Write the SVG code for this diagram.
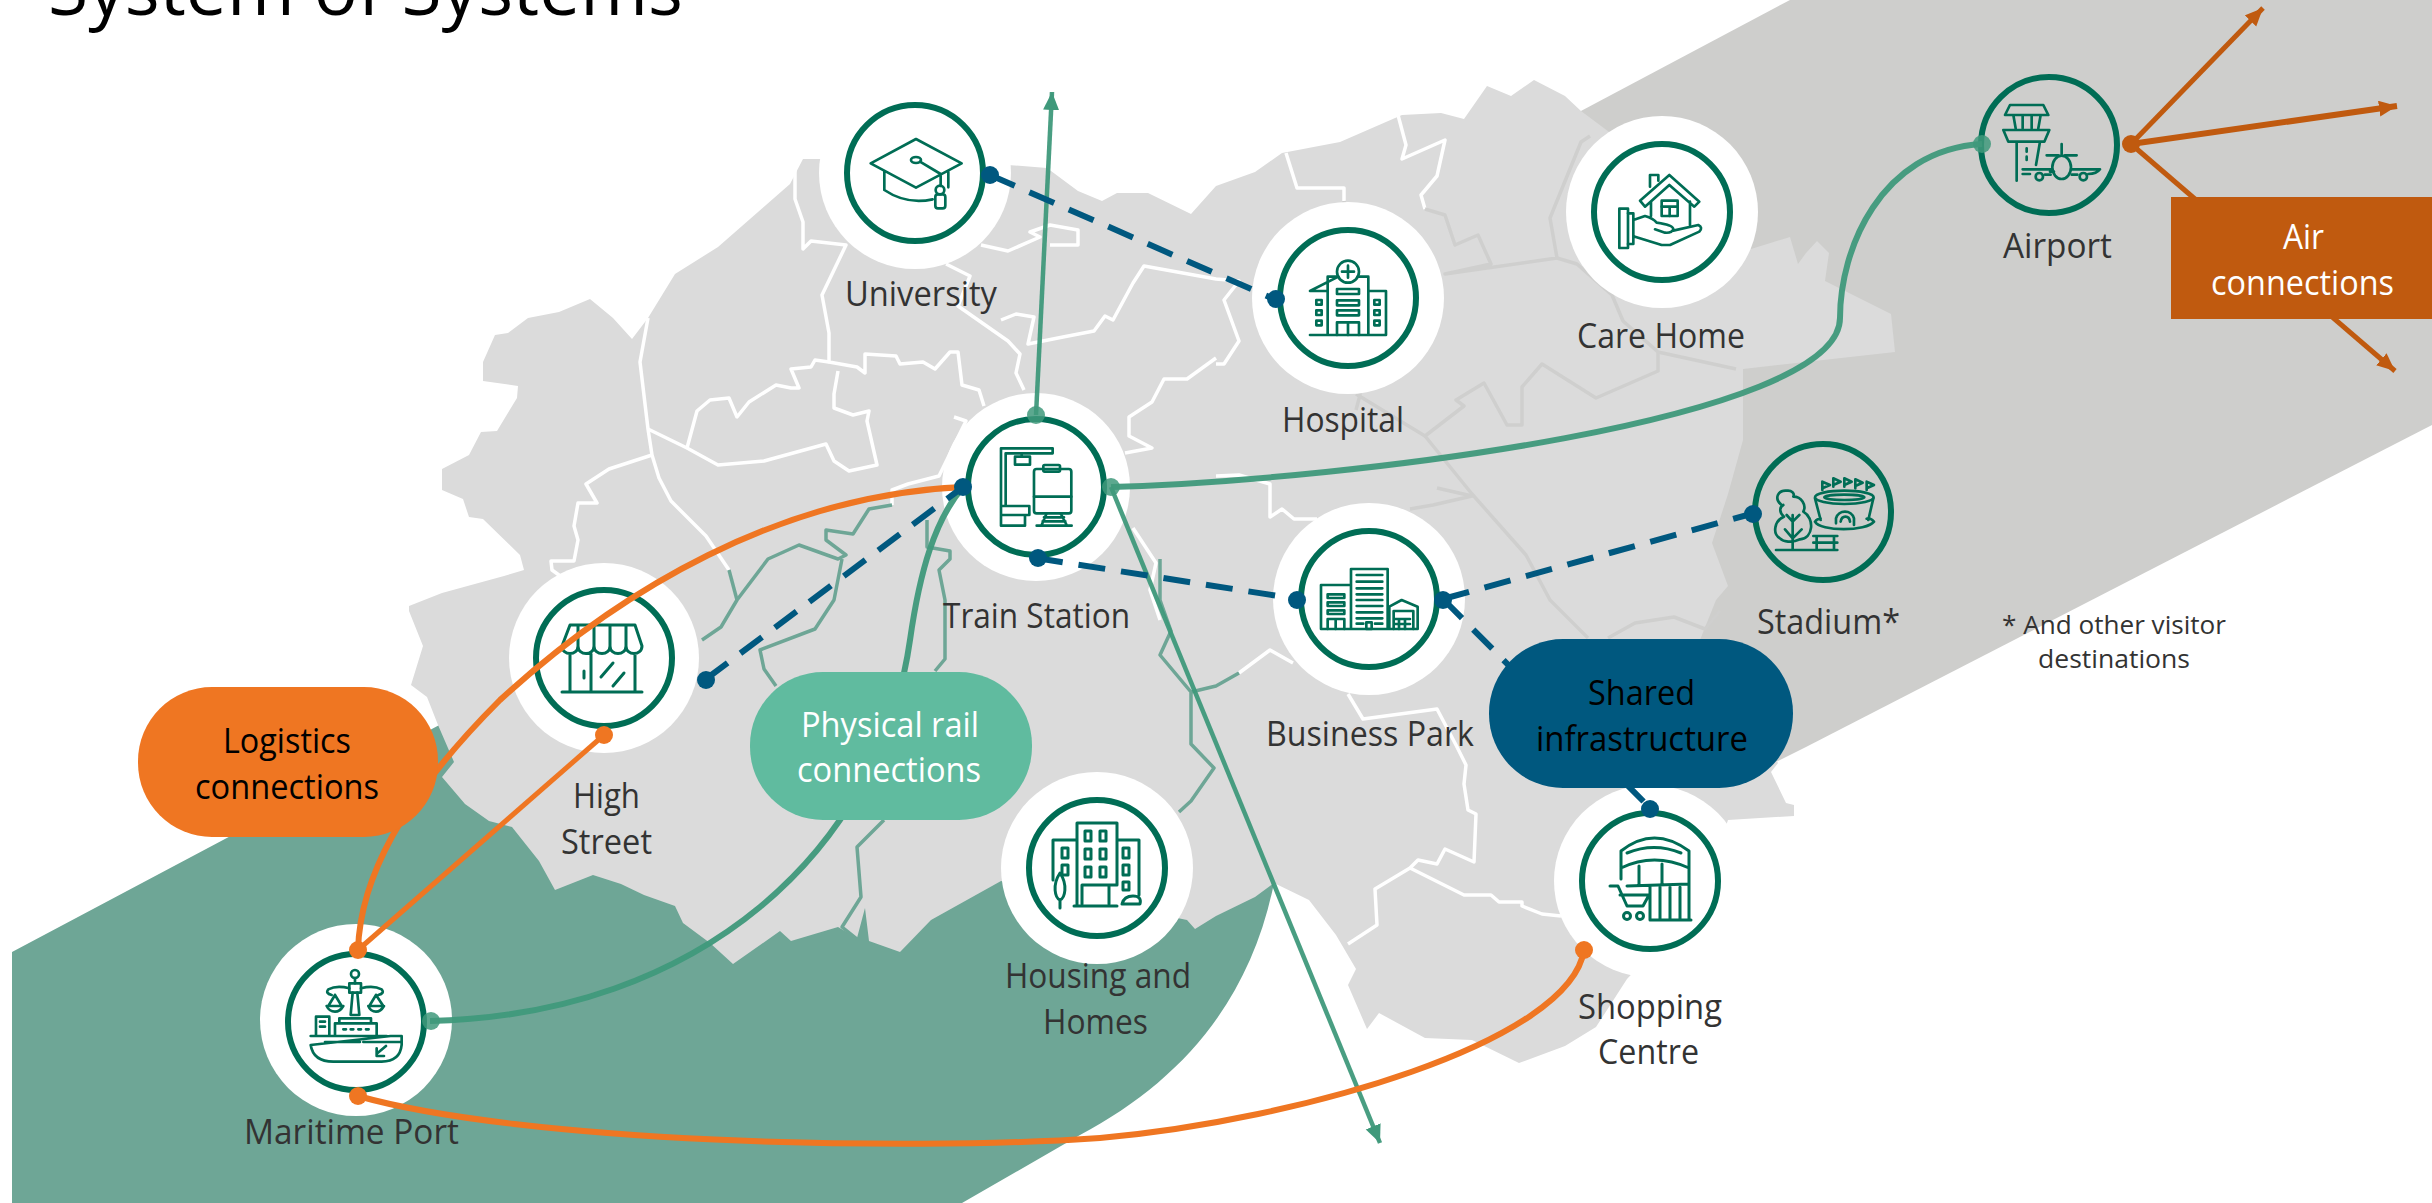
<svg xmlns="http://www.w3.org/2000/svg" width="2432" height="1203" viewBox="0 0 2432 1203">
<style>
text{font-family:"Open Sans","Liberation Sans",sans-serif;font-size:34px;fill:#333;text-anchor:start}
.title{font-size:74px;fill:#000}
.foot{font-size:26px}
.w{fill:#fff}.k{fill:#000}
.bw{fill:none;stroke:#fff;stroke-width:3.5;stroke-linejoin:round}
.bg{fill:none;stroke:#cfcfce;stroke-width:3.5;stroke-linejoin:round}
.br{fill:none;stroke:#6ea696;stroke-width:3.5;stroke-linejoin:round}
.halo{fill:#fff}
.ring{fill:#fff;stroke:#006d55;stroke-width:6}
.ringn{fill:none;stroke:#006d55;stroke-width:6}
.ic{fill:none;stroke:#006d55;stroke-width:3;stroke-linejoin:round;stroke-linecap:round}
.i3{fill:none;stroke:#006d55;stroke-width:8;stroke-linejoin:round;stroke-linecap:round}
.teal{fill:none;stroke:#3f997b;stroke-opacity:.95;stroke-width:6}
.org{fill:none;stroke:#ef7622;stroke-width:6}
.blue{fill:none;stroke:#00587f;stroke-width:6;stroke-dasharray:27 16}
.air{fill:none;stroke:#c05a0f;stroke-width:5}
.dt{fill:#3f997b;fill-opacity:.85}.do{fill:#ef7622}.db{fill:#00587f}.da{fill:#c05a0f}
</style>
<defs>
<marker id="at" markerUnits="userSpaceOnUse" markerWidth="20" markerHeight="18" refX="18" refY="8" orient="auto"><path d="M0,0L18,8L0,16Z" fill="#3f997b"/></marker>
<marker id="aa" markerUnits="userSpaceOnUse" markerWidth="20" markerHeight="18" refX="18" refY="8" orient="auto"><path d="M0,0L18,8L0,16Z" fill="#c05a0f"/></marker>
</defs>

<g id="background">
<path id="band-grey" fill="#cececc" d="M1790,0H2432V425L1806,747L1700,800L1500,500V154Z"/>
<path id="band-green" fill="#6ea696" d="M12,952L445,722L700,700L1274,883C1250,1002 1180,1082 1080,1135L962,1203H12Z"/>
<path id="map" fill="#dbdbdb" d="M818,159L803,159L790,184L718,247L675,274L648,318L632,339L613,318L590,299L559,312L528,318L508,333L495,335L483,362L483,381L518,386L517,398L497,431L481,432L469,455L442,469L442,490L463,499L469,517L483,519L520,555L524,570L504,576L442,593L409,606L409,611L423,646L411,685L427,697L438,725L454,762L442,777L465,804L489,821L512,827L539,861L555,890L593,875L621,884L644,895L675,906L683,923L710,943L733,964L780,931L791,941L838,927L857,938L865,908L869,941L900,952L931,920L1001,881L1100,902L1187,920L1195,929L1216,916L1255,897L1274,883L1309,900L1336,935L1356,969L1348,985L1367,1029L1379,1013L1425,1038L1472,1040L1519,1063L1565,1046L1596,1027L1627,979L1700,902L1728,820L1794,816L1794,805L1786,803L1771,772L1778,763L1700,640L1716,600L1728,586L1712,543L1728,494L1743,440L1743,369L1895,352L1891,314L1825,281L1829,253L1817,241L1806,253L1798,264L1790,237L1751,249L1700,200L1581,111L1565,96L1534,80L1511,96L1487,86L1464,119L1441,113L1402,115L1340,142L1282,153L1255,172L1216,186L1191,214L1148,193L1117,193L1102,201L1078,191L1047,168L1008,165Z"/>
<g id="borders-white">
<polyline class="bw" points="795,170 795,199 803,222 803,249 811,241 846,245 822,295 829,333 829,362 857,367 865,373 865,354 896,356 900,364 923,362 935,369 950,352 958,352 962,385 979,390 984,406"/>
<polyline class="bw" points="829,362 815,360 811,367 791,369 799,388 791,388 776,385 749,402 737,417 729,398 710,400 697,411 687,448"/>
<polyline class="bw" points="648,318 640,362 648,429 652,455 659,478 671,501 706,536 729,570"/>
<polyline class="bw" points="648,429 687,448 718,465 764,461 826,444 834,461 849,471 877,465 867,421 869,411 853,415 834,408 834,394 838,371"/>
<polyline class="bw" points="652,455 609,469 586,484 597,503 578,503 574,526 578,540 574,561 551,561 552,570 574,586"/>
<polyline class="bw" points="946,264 970,276 958,306 1008,341 1020,354 1016,373 1024,390"/>
<polyline class="bw" points="981,245 1008,251 1040,237 1030,232 1050,225 1078,230 1078,245 1050,245"/>
<polyline class="bw" points="1001,320 1016,314 1034,317 1028,344 1063,337 1094,331 1105,316 1113,320 1133,283 1144,266 1216,279 1239,281 1224,300 1239,341 1224,364 1216,364"/>
<polyline class="bw" points="1216,358 1187,379 1164,379 1152,402 1129,417 1129,436 1152,448 1125,453"/>
<polyline class="bw" points="954,417 966,421 939,476 908,484 892,490 892,505"/>
<polyline class="bw" points="1286,153 1297,188 1344,188 1344,201"/>
<polyline class="bw" points="1398,115 1406,145 1402,159 1445,140 1437,176 1421,195 1425,209"/>
<polyline class="bw" points="1216,476 1239,475 1270,484 1270,517 1282,509 1294,519 1317,519"/>
<polyline class="bw" points="1133,528 1156,563 1150,590 1160,620"/>
<polyline class="bw" points="1239,673 1270,650 1293,663"/>
<polyline class="bw" points="1348,694 1363,719 1437,709 1456,745 1466,765 1464,784 1468,810 1476,814 1474,862 1445,849 1437,864 1418,860 1410,868 1375,889 1377,925 1348,944"/>
<polyline class="bw" points="1410,868 1464,895 1491,895 1499,902 1522,902 1522,906 1542,914 1561,916"/>
</g>
<g id="borders-grey">
<polyline class="bg" points="1425,209 1445,215 1455,245 1478,235 1491,264 1445,274 1557,258 1550,218 1561,191 1581,142 1590,136"/>
<polyline class="bg" points="1557,258 1577,264 1612,295 1623,321 1658,352 1736,369"/>
<polyline class="bg" points="1658,352 1658,371 1596,398 1542,364 1522,387 1522,425 1507,425 1484,383 1456,400 1464,406 1425,436 1356,394"/>
<polyline class="bg" points="1425,436 1472,494 1526,555 1550,600 1588,638"/>
<polyline class="bg" points="1437,488 1472,496 1433,505 1410,509"/>
<polyline class="bg" points="1344,201 1360,395 1356,410"/>
<polyline class="bg" points="1608,638 1635,623 1674,617 1705,629 1720,611"/>
</g>
<g id="rail-lines">
<polyline class="br" points="892,505 869,509 853,534 826,530 826,540 846,555 838,559 799,545 768,559 737,600 721,627 702,640"/>
<polyline class="br" points="729,570 737,600"/>
<polyline class="br" points="842,559 834,600 815,629 760,650 764,669 776,686"/>
<polyline class="br" points="927,520 927,547 950,551 950,559 939,570 945,600 945,659 935,671"/>
<polyline class="br" points="884,820 857,847 861,897 842,927 857,939"/>
<polyline class="br" points="1160,559 1160,600 1171,631 1160,655 1191,692 1191,744 1214,768 1191,801 1179,812"/>
<polyline class="br" points="1191,692 1216,686 1239,673"/>
</g>
</g>

<text class="title" x="48" y="15" textLength="635" lengthAdjust="spacingAndGlyphs">System of Systems</text>

<g id="node-university">
<circle class="halo" cx="915" cy="173" r="96"/><circle class="ring" cx="915" cy="173" r="68"/>
<g transform="translate(840,100) scale(.3333)"><path class="i3" d="M228,117L365,190L228,263L92,190ZM133,213V270Q200,315 278,298M302,228V258M325,215V262"/><ellipse class="i3" cx="228" cy="180" rx="15" ry="9"/><path class="i3" d="M240,185L302,222"/><circle class="i3" cx="300" cy="270" r="13"/><rect class="i3" x="286" y="283" width="30" height="42" rx="8"/></g>
<text x="845" y="306" textLength="152" lengthAdjust="spacingAndGlyphs">University</text>
</g>
<g id="node-hospital">
<circle class="halo" cx="1348" cy="298" r="96"/><circle class="ring" cx="1348" cy="298" r="68"/>
<g transform="translate(1275,225) scale(.3333)"><path class="i3" d="M105,330H333V198H280V155H248M190,155H158V198H105Z M158,198V330M280,198V330"/><circle class="i3" cx="219" cy="140" r="33"/><path class="i3" d="M219,122V158M201,140H237"/><rect class="i3" x="186" y="192" width="66" height="15"/><rect class="i3" x="186" y="226" width="66" height="15"/><rect class="i3" x="186" y="256" width="66" height="15"/><path class="i3" d="M186,330V292H252V330M219,292V330"/><rect class="i3" x="124" y="225" width="16" height="14"/><rect class="i3" x="124" y="256" width="16" height="14"/><rect class="i3" x="124" y="287" width="16" height="14"/><rect class="i3" x="298" y="225" width="16" height="14"/><rect class="i3" x="298" y="256" width="16" height="14"/><rect class="i3" x="298" y="287" width="16" height="14"/></g>
<text x="1282" y="432" textLength="122" lengthAdjust="spacingAndGlyphs">Hospital</text>
</g>
<g id="node-care-home">
<circle class="halo" cx="1662" cy="212" r="96"/><circle class="ring" cx="1662" cy="212" r="68"/>
<g transform="translate(1590,140) scale(.3333)"><rect class="i3" x="88" y="206" width="26" height="118"/><path class="i3" d="M114,220H130V312H114M130,240L165,228Q190,235 200,248Q250,255 250,268Q245,280 225,278L195,268M250,272L325,255Q340,262 328,275L240,315H215L135,290"/><path class="i3" d="M150,182L238,105L328,185L313,200L238,135L165,200ZM180,140V105H205V122M183,185V228M300,185V255"/><rect class="i3" x="215" y="182" width="48" height="46"/><path class="i3" d="M215,200H263M239,200V228"/></g>
<text x="1577" y="348" textLength="168" lengthAdjust="spacingAndGlyphs">Care Home</text>
</g>
<g id="node-airport">
<circle class="ringn" cx="2049" cy="145" r="68"/>
<g transform="translate(1950,50) scale(.3333)"><path class="i3" d="M165,195L180,165H280L295,195ZM190,195L197,235M218,195V235M245,195V235M272,195L265,235M160,240H298L283,275H175ZM200,275V392M270,275L258,345M230,295V305M230,320V330M218,358H305M365,358H450Q440,372 415,372M240,372H218M335,282V312M290,316H325M345,316H380M312,365H300M285,374H302M365,374H382"/><ellipse class="i3" cx="335" cy="352" rx="28" ry="35"/><circle class="i3" cx="268" cy="380" r="11"/><circle class="i3" cx="400" cy="380" r="11"/></g>
<text x="2003" y="258" textLength="109" lengthAdjust="spacingAndGlyphs">Airport</text>
</g>
<g id="node-stadium">
<circle class="ringn" cx="1823" cy="512" r="68"/>
<g transform="translate(1750,440) scale(.3333)"><path class="i3" d="M78,330H262M190,288H262M190,308H262M200,288V328M252,288V328M128,330V225M128,245L110,225M128,245L148,225M128,295L105,268M128,295L155,268M95,195C70,175 85,150 110,152C125,150 135,160 130,170C155,170 170,195 160,215C195,235 190,295 150,298C125,310 100,305 90,295C65,280 75,240 102,230C85,215 90,200 100,195"/><ellipse class="i3" cx="283" cy="172" rx="88" ry="20"/><ellipse class="i3" cx="283" cy="172" rx="60" ry="8"/><path class="i3" d="M195,175L212,240M370,175L355,240M195,245C210,275 350,275 372,245C360,232 350,236 350,236M195,245C200,238 210,236 212,236M258,250V235C265,208 305,208 312,235V255M272,245C275,225 298,225 300,245"/><path class="i3" d="M217,150V125L240,135L217,145M250,140V115L272,125L250,135M283,140V115L305,125L283,135M316,145V118L338,128L316,138M350,150V125L372,135L350,145"/></g>
<text x="1757" y="634" textLength="143" lengthAdjust="spacingAndGlyphs">Stadium*</text>
</g>
<g id="node-train-station">
<circle class="halo" cx="1036" cy="487" r="94"/><circle class="ring" cx="1036" cy="487" r="68"/>
<g transform="translate(940,380) scale(.3333)"><path class="i3" d="M183,375V205H338V220H197V375M245,220V228"/><rect class="i3" x="225" y="230" width="45" height="24"/><rect class="i3" x="282" y="267" width="112" height="133" rx="8"/><rect class="i3" x="310" y="255" width="50" height="20" rx="4"/><path class="i3" d="M282,350H394M305,435L320,400M380,435L362,400M312,412H372M308,424H376M290,437H395"/><path class="i3" d="M183,378H268V405H183ZM183,405V437H255V405"/></g>
<text x="943" y="628" textLength="187" lengthAdjust="spacingAndGlyphs">Train Station</text>
</g>
<g id="node-business-park">
<circle class="halo" cx="1369" cy="599" r="96"/><circle class="ring" cx="1369" cy="599" r="68"/>
<g transform="translate(1295,525) scale(.3333)"><path class="i3" d="M78,312V180H168M168,312V132H278V312M78,312H368V245L320,225L283,245V312"/><path class="i3" d="M185,150H262M185,170H262M185,190H262M185,208H262M185,225H262M185,243H262M185,262H262M185,280H262M185,296H205M240,296H262"/><rect class="i3" x="214" y="292" width="16" height="20"/><rect class="i3" x="98" y="208" width="50" height="11"/><rect class="i3" x="98" y="232" width="50" height="11"/><rect class="i3" x="98" y="256" width="50" height="11"/><path class="i3" d="M98,312V282H148V312M122,282V312"/><path class="i3" d="M296,312V258H355V312M296,282H345M296,297H345M312,282V312M330,282V312"/></g>
<text x="1266" y="746" textLength="208" lengthAdjust="spacingAndGlyphs">Business Park</text>
</g>
<g id="node-high-street">
<circle class="halo" cx="604" cy="658" r="95"/><circle class="ring" cx="604" cy="658" r="68"/>
<path class="ic" d="M570,625H635L642,646C642,656 626,656 626,646C626,656 610,656 610,646C610,656 594,656 594,646C594,656 578,656 578,646C578,656 562,656 562,646ZM578,625V646M594,625V646M610,625V646M626,625V646M570,654V692M635,654V692M591,654V692M562,692H642M613,663L601,677M624,673L613,686M584,671V678"/>
<text x="573" y="808" textLength="67" lengthAdjust="spacingAndGlyphs">High</text>
<text x="561" y="854" textLength="91" lengthAdjust="spacingAndGlyphs">Street</text>
</g>
<g id="node-housing">
<circle class="halo" cx="1097" cy="868" r="96"/><circle class="ring" cx="1097" cy="868" r="68"/>
<path class="ic" d="M1077,906V823H1117V885M1077,840H1053V880M1117,840H1139V895M1074,906H1117M1082,885H1117M1082,885V904M1109,885V904M1060,873C1052,885 1055,898 1060,900C1065,898 1068,885 1060,873ZM1060,900V908M1122,904H1140Q1142,896 1133,896Q1124,896 1122,904"/>
<path class="ic" d="M1085,831h6v10h-6ZM1100,831h6v10h-6ZM1085,849h6v10h-6ZM1100,849h6v10h-6ZM1085,867h6v10h-6ZM1100,867h6v10h-6ZM1062,848h6v10h-6ZM1062,865h6v10h-6ZM1123,848h6v10h-6ZM1123,865h6v10h-6ZM1123,882h6v8h-6Z"/>
<text x="1005" y="988" textLength="186" lengthAdjust="spacingAndGlyphs">Housing and</text>
<text x="1043" y="1034" textLength="105" lengthAdjust="spacingAndGlyphs">Homes</text>
</g>
<g id="node-maritime-port">
<circle class="halo" cx="356" cy="1020" r="96"/><circle class="ring" cx="356" cy="1022" r="68"/>
<g transform="translate(260,920) scale(.3333)"><path class="i3" d="M152,348H380M392,348H425V375Q420,425 365,425H220Q160,425 152,375ZM195,366H300M310,366H420M225,345V310H350V345M238,310V295H333V310M168,345V290H208V345M250,328H258M272,328H280M295,328H303M318,328H326M180,305H195M180,320H195"/><circle class="i3" cx="285" cy="162" r="12"/><rect class="i3" x="268" y="190" width="35" height="28"/><path class="i3" d="M285,174V190M278,218L272,285H298L292,218M268,205Q230,195 205,208Q195,220 215,225M303,205Q340,195 365,208Q375,220 355,225M225,225L205,258M225,225L245,258M348,225L328,258M348,225L370,258M200,258H250Q240,275 225,275Q208,275 200,258ZM325,258H372Q362,275 348,275Q332,275 325,258ZM352,400L378,378M350,385V408H372"/></g>
<text x="244" y="1144" textLength="215" lengthAdjust="spacingAndGlyphs">Maritime Port</text>
</g>
<g id="node-shopping-centre">
<circle class="halo" cx="1650" cy="881" r="96"/><circle class="ring" cx="1650" cy="881" r="68"/>
<path class="ic" d="M1621,879V851Q1654,825 1689,851V920M1621,868Q1654,852 1689,868M1627,853Q1654,842 1681,853M1639,866V885M1662,864V885M1627,886L1689,884M1650,887V920M1660,887V920M1670,887V920M1680,887V920M1650,920H1691M1610,886H1618L1627,906H1643L1649,895H1620"/>
<circle class="ic" cx="1627" cy="916" r="3.5"/><circle class="ic" cx="1640" cy="916" r="3.5"/>
<text x="1578" y="1019" textLength="144" lengthAdjust="spacingAndGlyphs">Shopping</text>
<text x="1598" y="1064" textLength="101" lengthAdjust="spacingAndGlyphs">Centre</text>
</g>

<text class="foot" x="2002" y="634" textLength="224" lengthAdjust="spacingAndGlyphs">* And other visitor</text>
<text class="foot" x="2038" y="668" textLength="152" lengthAdjust="spacingAndGlyphs">destinations</text>

<g id="connectors">
<path class="teal" style="stroke-width:4.5" d="M1036,415L1052,92" marker-end="url(#at)"/>
<path class="teal" style="stroke-width:4.5" d="M1111,487L1380,1143" marker-end="url(#at)"/>
<path class="teal" d="M1111,487C1350,480 1840,420 1840,318C1840,250 1880,150 1982,144"/>
<path class="teal" d="M430,1021C700,1015 880,850 910,640C920,570 935,520 963,487"/>
<circle class="dt" cx="1036" cy="415" r="9"/><circle class="dt" cx="1111" cy="487" r="9"/><circle class="dt" cx="1982" cy="144" r="9"/><circle class="dt" cx="431" cy="1021" r="9"/>
<path class="org" d="M963,487C780,495 620,590 500,700C400,800 360,880 358,950"/>
<path class="org" style="stroke-width:5" d="M604,735L358,950"/>
<path class="org" d="M358,1096C520,1142 900,1152 1100,1138C1300,1120 1570,1042 1584,950"/>
<circle class="do" cx="604" cy="735" r="9"/><circle class="do" cx="358" cy="950" r="9"/><circle class="do" cx="358" cy="1096" r="9"/><circle class="do" cx="1584" cy="950" r="9"/>
<path class="blue" d="M990,175L1274,299"/>
<path class="blue" d="M1036,558L1297,599"/>
<path class="blue" d="M1443,599L1751,514"/>
<path class="blue" d="M1443,599L1650,808"/>
<path class="blue" d="M706,679L963,487"/>
<circle class="db" cx="990" cy="175" r="9"/><circle class="db" cx="1276" cy="299" r="9"/><circle class="db" cx="1038" cy="558" r="9"/><circle class="db" cx="1297" cy="600" r="9"/><circle class="db" cx="1443" cy="600" r="9"/><circle class="db" cx="1753" cy="514" r="9"/><circle class="db" cx="1650" cy="809" r="9"/><circle class="db" cx="706" cy="680" r="9"/><circle class="db" cx="963" cy="487" r="9"/>
<path class="air" d="M2131,144L2263,8" marker-end="url(#aa)"/>
<path class="air" style="stroke-width:6" d="M2131,144L2397,106" marker-end="url(#aa)"/>
<path class="air" d="M2131,144L2395,371" marker-end="url(#aa)"/>
<circle class="da" cx="2131" cy="144" r="9"/>
</g>

<g id="legend-logistics"><rect x="138" y="687" width="300" height="150" rx="74" fill="#ef7622"/>
<text class="k" x="223" y="753" textLength="128" lengthAdjust="spacingAndGlyphs">Logistics</text>
<text class="k" x="195" y="799" textLength="184" lengthAdjust="spacingAndGlyphs">connections</text></g>
<g id="legend-rail"><rect x="750" y="672" width="282" height="148" rx="73" fill="#60bb9f"/>
<text class="w" x="801" y="737" textLength="178" lengthAdjust="spacingAndGlyphs">Physical rail</text>
<text class="w" x="797" y="782" textLength="184" lengthAdjust="spacingAndGlyphs">connections</text></g>
<g id="legend-shared"><rect x="1489" y="639" width="304" height="149" rx="74" fill="#00587f"/>
<text class="k" x="1588" y="705" textLength="107" lengthAdjust="spacingAndGlyphs">Shared</text>
<text class="k" x="1536" y="751" textLength="212" lengthAdjust="spacingAndGlyphs">infrastructure</text></g>
<g id="legend-air"><rect x="2171" y="197" width="261" height="122" fill="#c05a0f"/>
<text class="w" x="2283" y="249" textLength="41" lengthAdjust="spacingAndGlyphs">Air</text>
<text class="w" x="2211" y="295" textLength="183" lengthAdjust="spacingAndGlyphs">connections</text></g>
</svg>
